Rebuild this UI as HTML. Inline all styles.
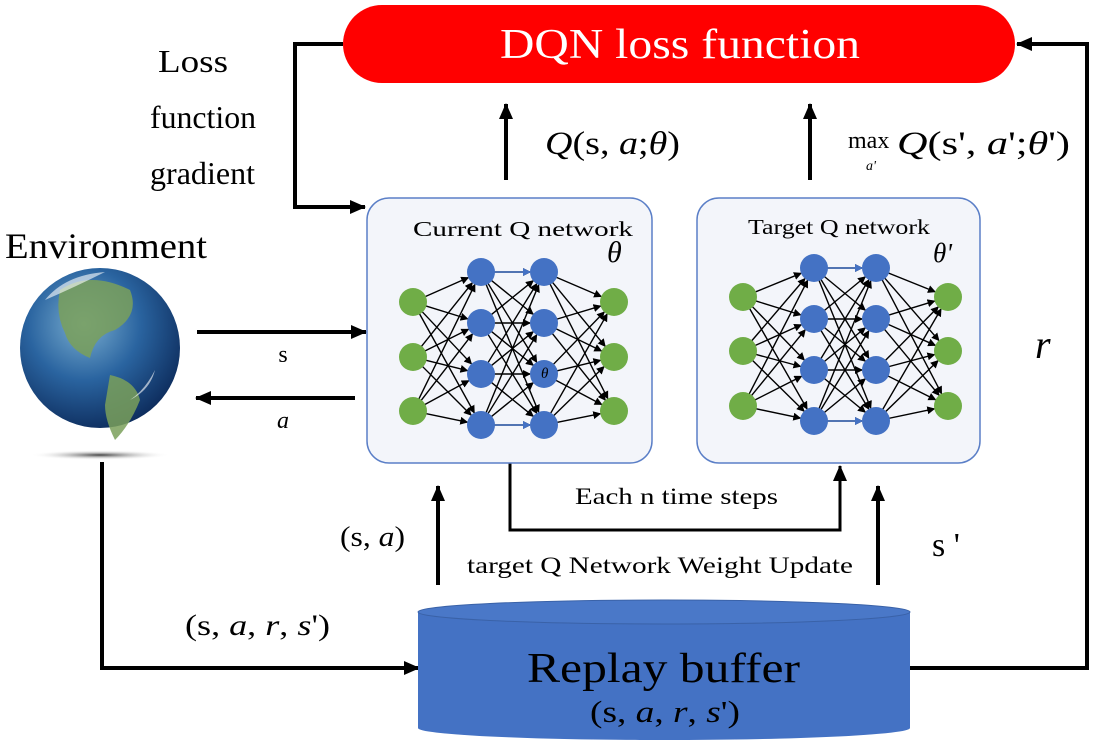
<!DOCTYPE html>
<html><head><meta charset="utf-8"><style>
html,body{margin:0;padding:0;background:#fff;}
svg{display:block;font-family:"Liberation Serif",serif;}
</style></head><body>
<svg id="s" width="1103" height="742" viewBox="0 0 1103 742" xmlns="http://www.w3.org/2000/svg">
<defs>
<marker id="ah" markerWidth="8" markerHeight="8" refX="7" refY="4" orient="auto" markerUnits="userSpaceOnUse"><path d="M0,0 L8,4 L0,8 Z" fill="#000"/></marker>
<marker id="big" markerWidth="16" markerHeight="14" refX="15" refY="7" orient="auto" markerUnits="userSpaceOnUse"><path d="M0,0 L16,7 L0,14 Z" fill="#000"/></marker>
<marker id="bl" markerWidth="8" markerHeight="8" refX="7" refY="4" orient="auto" markerUnits="userSpaceOnUse"><path d="M0,0 L8,4 L0,8 Z" fill="#4472c4"/></marker>
<radialGradient id="g" cx="0.4" cy="0.35" r="0.7"><stop offset="0" stop-color="#7aaed0"/><stop offset="0.5" stop-color="#2a64a0"/><stop offset="1" stop-color="#0c2a5a"/></radialGradient>
<radialGradient id="sh"><stop offset="0" stop-color="#444"/><stop offset="1" stop-color="#fff" stop-opacity="0"/></radialGradient>
</defs>
<rect x="343" y="5" width="672" height="78" rx="39" fill="#ff0000"/>
<text x="500" y="58" font-size="42" fill="#fff" textLength="360" lengthAdjust="spacingAndGlyphs">DQN loss function</text>
<g stroke="#000" stroke-width="4" fill="none">
<polyline points="343,44 295,44 295,207 365,207" marker-end="url(#big)"/>
<polyline points="910,668 1087,668 1087,44 1017,44" marker-end="url(#big)"/>
<line x1="506" y1="180" x2="506" y2="104" marker-end="url(#big)"/>
<line x1="810" y1="180" x2="810" y2="104" marker-end="url(#big)"/>
<line x1="197" y1="332" x2="366" y2="332" marker-end="url(#big)"/>
<line x1="355" y1="398" x2="196" y2="398" marker-end="url(#big)"/>
<polyline points="102,462 102,668 419,668" marker-end="url(#big)"/>
<line x1="438" y1="585" x2="438" y2="486" marker-end="url(#big)"/>
<line x1="878" y1="585" x2="878" y2="486" marker-end="url(#big)"/>
</g>
<polyline points="510,463 510,530 840,530 840,466" stroke="#000" stroke-width="3" fill="none" marker-end="url(#big)"/>
<g font-size="32">
<text x="158" y="72" textLength="70" lengthAdjust="spacingAndGlyphs">Loss</text>
<text x="150" y="128" textLength="106" lengthAdjust="spacingAndGlyphs">function</text>
<text x="150" y="184" textLength="105" lengthAdjust="spacingAndGlyphs">gradient</text>
</g>
<text x="5" y="258" font-size="36" textLength="202" lengthAdjust="spacingAndGlyphs">Environment</text>
<ellipse cx="100" cy="455" rx="70" ry="5" fill="url(#sh)"/>
<circle cx="100" cy="348" r="80" fill="url(#g)"/>
<path d="M60,290 q30,-20 70,0 q10,25 -15,40 q-20,5 -25,28 q-20,-8 -25,-25 q-10,-20 -5,-43z" fill="#7aa05a" opacity="0.85"/>
<path d="M110,375 q25,5 30,25 q-10,25 -25,40 q-10,-20 -10,-35z" fill="#7aa05a" opacity="0.85"/>
<path d="M45,300 q20,-25 60,-28 q-30,15 -60,28z M130,400 q15,-10 25,-30 q-5,20 -25,30z" fill="#fff" opacity="0.6"/>
<text x="283" y="362" font-size="24" text-anchor="middle">s</text>
<text x="283" y="428" font-size="24" font-style="italic" text-anchor="middle">a</text>
<text x="545" y="154" font-size="33" textLength="135" lengthAdjust="spacingAndGlyphs"><tspan font-style="italic">Q</tspan>(s, <tspan font-style="italic">a</tspan>;<tspan font-style="italic">θ</tspan>)</text>
<text x="848" y="148" font-size="24">max</text><text x="866" y="170" font-size="14" font-style="italic">a'</text>
<text x="897" y="154" font-size="33" textLength="173" lengthAdjust="spacingAndGlyphs"><tspan font-style="italic">Q</tspan>(s', <tspan font-style="italic">a</tspan>';<tspan font-style="italic">θ</tspan>')</text>
<text x="1035" y="358" font-size="40" font-style="italic">r</text>
<text x="340" y="546" font-size="29" textLength="65" lengthAdjust="spacingAndGlyphs">(s, <tspan font-style="italic">a</tspan>)</text>
<text x="932" y="556" font-size="34">s '</text>
<text x="185" y="635" font-size="30" textLength="145" lengthAdjust="spacingAndGlyphs">(s, <tspan font-style="italic">a</tspan>, <tspan font-style="italic">r</tspan>, <tspan font-style="italic">s</tspan>')</text>
<text x="575" y="504" font-size="23" textLength="203" lengthAdjust="spacingAndGlyphs">Each n time steps</text>
<text x="467" y="573" font-size="23" textLength="386" lengthAdjust="spacingAndGlyphs">target Q Network Weight Update</text>
<rect x="418" y="612" width="492" height="116" fill="#4472c4"/>
<ellipse cx="664" cy="728" rx="246" ry="12" fill="#4472c4"/>
<ellipse cx="664" cy="612" rx="246" ry="12" fill="#4a78c8" stroke="#3a62a8" stroke-width="1"/>
<text x="527" y="682" font-size="42" textLength="273" lengthAdjust="spacingAndGlyphs">Replay buffer</text>
<text x="590" y="722" font-size="31" textLength="150" lengthAdjust="spacingAndGlyphs">(s, <tspan font-style="italic">a</tspan>, <tspan font-style="italic">r</tspan>, <tspan font-style="italic">s</tspan>')</text>
<rect x="367" y="198" width="285" height="265" rx="22" fill="#f3f5fa" stroke="#5b7fc7" stroke-width="1.5"/>
<rect x="697" y="198" width="283" height="265" rx="22" fill="#f3f5fa" stroke="#5b7fc7" stroke-width="1.5"/>
<text x="413" y="236" font-size="21" textLength="220" lengthAdjust="spacingAndGlyphs">Current Q network</text>
<text x="748" y="234" font-size="21" textLength="182" lengthAdjust="spacingAndGlyphs">Target Q network</text>
<text x="607" y="262" font-size="30" font-style="italic">θ</text>
<text x="933" y="262" font-size="27" font-style="italic">θ'</text>
<g id="nets"></g>
</svg>
<script>
var ns="http://www.w3.org/2000/svg",G=document.getElementById("nets");
function el(t,a){var e=document.createElementNS(ns,t);for(var k in a)e.setAttribute(k,a[k]);G.appendChild(e);return e;}
function net(xs,ys){
 var L=[[xs[0],ys[0]],[xs[1],ys[1]],[xs[2],ys[1]],[xs[3],ys[0]]];
 for(var l=0;l<3;l++){var a=L[l],b=L[l+1];
  for(var i=0;i<a[1].length;i++)for(var j=0;j<b[1].length;j++){
   var x1=a[0],y1=a[1][i],x2=b[0],y2=b[1][j],dx=x2-x1,dy=y2-y1,d=Math.sqrt(dx*dx+dy*dy);
   el("line",{x1:x1+dx/d*13,y1:y1+dy/d*13,x2:x2-dx/d*14,y2:y2-dy/d*14,stroke:"#000","stroke-width":1.4,"marker-end":"url(#ah)"});}}
 [0,3].forEach(function(k){el("line",{x1:L[1][0]+14,y1:L[1][1][k],x2:L[2][0]-14,y2:L[2][1][k],stroke:"#4472c4","stroke-width":1.5,"marker-end":"url(#bl)"});});
 L.forEach(function(c,ci){c[1].forEach(function(y){el("circle",{cx:c[0],cy:y,r:14,fill:(ci==0||ci==3)?"#70ad47":"#4472c4"});});});
}
net([413,481,544,614],[[302,357,411],[272,323,374,425]]);
net([743,814,876,948],[[297,351,406],[268,319,370,421]]);
el("text",{x:541,y:378,"font-size":15,"font-style":"italic"}).textContent="θ";
</script>
</body></html>
